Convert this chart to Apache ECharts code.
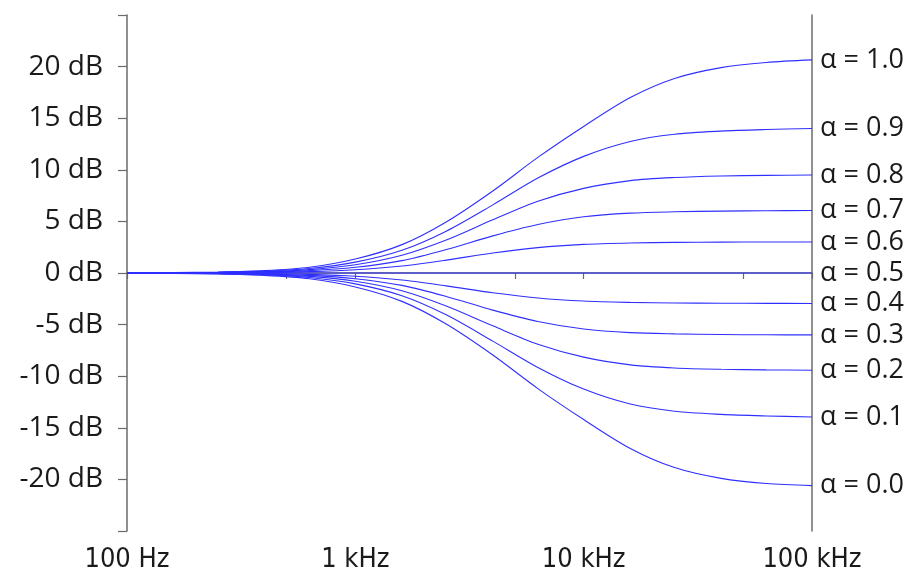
<!DOCTYPE html>
<html>
<head>
<meta charset="utf-8">
<script src="https://cdn.jsdelivr.net/npm/echarts@6/dist/echarts.min.js"></script>
<style>
  html, body { margin: 0; padding: 0; background: #fff; }
  #chart { width: 915px; height: 579px; }
</style>
</head>
<body>
<div id="chart"></div>
<script>
var freqs = [100, 160, 250, 400, 630, 1000, 1600, 2500, 4000, 6300, 10000, 16000, 25000, 40000, 63000, 100000];

// gain in dB for each alpha
var a10 = [0, 0.04, 0.09, 0.23, 0.56, 1.35, 2.75, 4.95, 7.95, 11.2, 14.2, 17.0, 18.85, 19.9, 20.4, 20.65];
var a09 = [0, 0.03, 0.07, 0.18, 0.43, 1.05, 2.2, 4.05, 6.6, 9.2, 11.3, 12.75, 13.45, 13.75, 13.9, 14.0];
var a08 = [0, 0.02, 0.05, 0.14, 0.33, 0.8, 1.72, 3.2, 5.15, 6.95, 8.2, 8.95, 9.25, 9.4, 9.46, 9.5];
var a07 = [0, 0.02, 0.04, 0.1, 0.23, 0.55, 1.2, 2.27, 3.6, 4.7, 5.45, 5.8, 5.93, 6.0, 6.03, 6.05];
var a06 = [0, 0.01, 0.02, 0.05, 0.13, 0.31, 0.68, 1.25, 1.94, 2.46, 2.77, 2.91, 2.97, 2.99, 3.0, 3.0];
var a05 = [0, 0, 0, 0, 0, 0, 0, 0, 0, 0, 0, 0, 0, 0, 0, 0];
var a04 = [0, -0.01, -0.02, -0.05, -0.13, -0.31, -0.68, -1.25, -1.92, -2.42, -2.72, -2.85, -2.91, -2.93, -2.94, -2.95];
var a03 = [0, -0.02, -0.04, -0.1, -0.23, -0.55, -1.2, -2.27, -3.6, -4.7, -5.43, -5.78, -5.9, -5.96, -5.99, -6.0];
var a02 = [0, -0.02, -0.05, -0.14, -0.33, -0.8, -1.72, -3.2, -5.12, -6.9, -8.15, -8.9, -9.2, -9.33, -9.39, -9.42];
var a01 = [0, -0.03, -0.07, -0.18, -0.43, -1.05, -2.2, -4.05, -6.6, -9.15, -11.25, -12.7, -13.4, -13.7, -13.85, -13.95];
var a00 = [0, -0.04, -0.09, -0.23, -0.56, -1.35, -2.75, -4.95, -7.95, -11.2, -14.2, -17.0, -18.85, -19.9, -20.4, -20.6];

var alphaNames = ['1.0', '0.9', '0.8', '0.7', '0.6', '0.5', '0.4', '0.3', '0.2', '0.1', '0.0'];
var curves = [a10, a09, a08, a07, a06, a05, a04, a03, a02, a01, a00];

var xLabelValues = [100, 1000, 10000, 100000];
var xTickValues = [100, 500, 1000, 5000, 10000, 50000, 100000];

function freqLabel(v) {
    if (v >= 1000) return (v / 1000) + ' kHz';
    return v + ' Hz';
}

var axisColor = '#6b6b6b';
var textColor = '#1a1a1a';

var series = curves.map(function (vals, i) {
    return {
        name: 'α = ' + alphaNames[i],
        type: 'line',
        data: freqs.map(function (f, j) { return [f, vals[j]]; }),
        smooth: 0.3,
        showSymbol: false,
        silent: true,
        lineStyle: { color: '#2f2fff', width: 1.1 },
        endLabel: {
            show: true,
            formatter: '{a}',
            distance: 8,
            fontFamily: 'Open Sans',
            fontSize: 27,
            color: textColor
        }
    };
});

var chart = echarts.init(document.getElementById('chart'), null, { renderer: 'canvas' });

chart.setOption({
    animation: false,
    backgroundColor: '#fff',
    grid: { left: 127, right: 103, top: 15, bottom: 48 },
    xAxis: {
        type: 'log',
        logBase: 10,
        min: 100,
        max: 100000,
        axisLine: { show: true, lineStyle: { color: axisColor, width: 1.5 } },
        axisTick: {
            show: true,
            length: 6,
            customValues: xTickValues,
            lineStyle: { color: axisColor, width: 1.2 }
        },
        axisLabel: {
            customValues: xLabelValues,
            formatter: freqLabel,
            margin: 15,
            fontFamily: "'DejaVu Sans Condensed', 'Open Sans'",
            fontSize: 27,
            color: textColor
        },
        splitLine: { show: false }
    },
    yAxis: [{
        type: 'value',
        min: -25,
        max: 25,
        interval: 5,
        axisLine: { show: true, lineStyle: { color: axisColor, width: 1.5 } },
        axisTick: { show: true, length: 9, lineStyle: { color: axisColor, width: 1.2 } },
        axisLabel: {
            margin: 24,
            fontFamily: 'Open Sans',
            fontSize: 28,
            color: textColor,
            formatter: function (v) {
                return Math.abs(v) === 25 ? '' : v + ' dB';
            }
        },
        splitLine: { show: false }
    }, {
        type: 'value',
        position: 'right',
        min: -25,
        max: 25,
        interval: 5,
        axisLine: { show: true, lineStyle: { color: axisColor, width: 1.5 } },
        axisTick: { show: false },
        axisLabel: { show: false },
        splitLine: { show: false }
    }],
    series: series
});
</script>
</body>
</html>
